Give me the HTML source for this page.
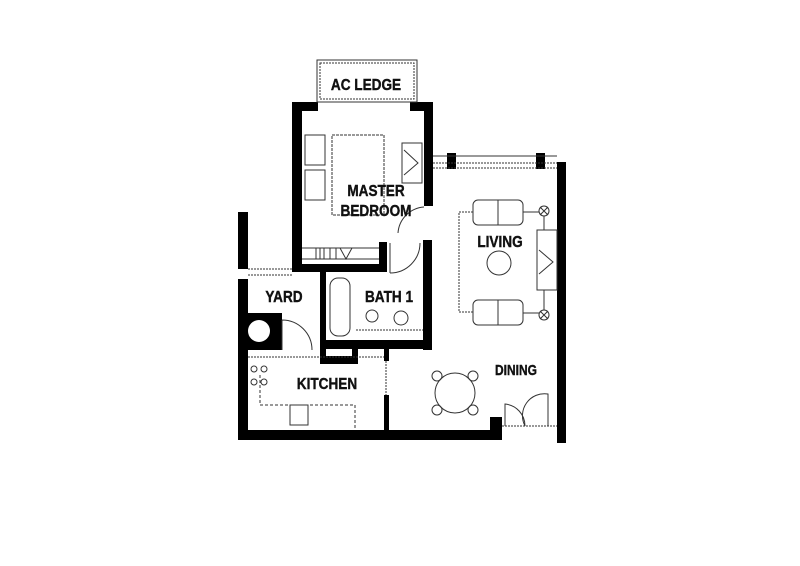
<!DOCTYPE html>
<html><head><style>
html,body{margin:0;padding:0;background:#fff;}
svg{display:block;}
text{font-family:"Liberation Sans",sans-serif;font-weight:bold;fill:#111;stroke:#111;stroke-width:0.4;}
</style></head><body>
<svg width="800" height="566" viewBox="0 0 800 566" xmlns="http://www.w3.org/2000/svg">
<g fill="#000">
<rect x="292" y="102" width="26" height="9"/>
<rect x="410" y="102" width="23" height="9"/>
<rect x="292" y="102" width="10" height="170"/>
<rect x="424" y="102" width="9" height="104"/>
<rect x="292" y="264" width="95" height="8"/>
<rect x="379" y="242" width="8" height="30"/>
<rect x="423" y="240" width="9" height="110"/>
<rect x="238" y="212" width="10" height="57"/>
<rect x="238" y="279" width="10" height="161"/>
<rect x="238" y="430" width="264" height="10"/>
<rect x="490" y="417" width="12" height="23"/>
<rect x="557" y="162" width="9" height="281"/>
<rect x="447" y="153" width="9" height="16"/>
<rect x="536" y="153" width="9" height="16"/>
<rect x="320" y="272" width="6" height="78"/>
<rect x="320" y="340" width="112" height="9"/>
<rect x="320" y="340" width="6" height="24"/>
<rect x="320" y="356" width="38" height="8"/>
<rect x="352" y="340" width="6" height="24"/>
<rect x="238" y="313" width="44" height="37"/>
<rect x="384" y="347" width="5" height="14"/>
<rect x="384" y="395" width="5" height="40"/>
</g>
<circle cx="259" cy="331" r="11" fill="#fff"/>
<g fill="none" stroke="#333" stroke-width="1">
<rect x="317" y="60" width="100" height="42"/>
<rect x="320" y="63" width="94" height="36" stroke-dasharray="2,1"/>
<line x1="433" y1="156" x2="557" y2="156"/>
<line x1="433" y1="168" x2="557" y2="168" stroke-dasharray="2,1"/>
<line x1="433" y1="163" x2="557" y2="163" stroke-dasharray="2,1"/>
<line x1="248" y1="269" x2="292" y2="269" stroke-dasharray="2,1"/>
<line x1="248" y1="275" x2="292" y2="275" stroke-dasharray="2,1"/>
<rect x="332" y="135" width="52" height="80" stroke-dasharray="3,1"/>
<rect x="328" y="138" width="60" height="0.5" stroke="none"/>
<line x1="302" y1="111" x2="302" y2="111"/>
<rect x="305" y="135" width="20" height="30"/>
<rect x="305" y="170" width="20" height="30"/>
<rect x="402" y="143" width="20" height="40"/>
<path d="M404,150 L418,163 L404,175"/>
<line x1="302" y1="248" x2="379" y2="248"/>
<line x1="302" y1="259" x2="379" y2="259"/>
<path d="M316,248 v11 M320,248 v11 M324,248 v11 M330,248 v11 M336,248 v11 M340,248 l6,11 l6,-11"/>
<path d="M424,207 A28,28 0 0 0 398,233"/>
<path d="M390,243 v30 M390,273 A30,30 0 0 0 420,243"/>
<rect x="330" y="278" width="20" height="58" rx="8"/>
<circle cx="372" cy="316" r="6"/>
<circle cx="401" cy="318" r="7"/>
<line x1="356" y1="330" x2="423" y2="330" stroke-dasharray="2,1"/>
<path d="M282,320 A30,30 0 0 1 312,350 M282,320 v30" />
<line x1="248" y1="357" x2="384" y2="357" stroke-dasharray="2,1"/>
<path d="M260,375 v30 h95 v25" stroke-dasharray="3,2"/>
<rect x="290" y="405" width="18" height="20"/>
<circle cx="254" cy="369" r="3"/><circle cx="264" cy="369" r="3"/>
<circle cx="254" cy="382" r="3"/><circle cx="264" cy="382" r="3"/>
<rect x="473" y="200" width="50" height="25" rx="5"/>
<line x1="498" y1="200" x2="498" y2="225"/>
<rect x="473" y="300" width="50" height="25" rx="5"/>
<line x1="498" y1="300" x2="498" y2="325"/>
<path d="M473,212 h-14 v100 h14" stroke-dasharray="2,1"/>
<circle cx="499" cy="263" r="12"/>
<rect x="537" y="230" width="20" height="60"/>
<path d="M539,250 L553,262 L539,274"/>
<circle cx="544" cy="211" r="5"/><path d="M540,207 l8,8 M548,207 l-8,8"/>
<circle cx="544" cy="315" r="5"/><path d="M540,311 l8,8 M548,311 l-8,8"/>
<path d="M523,212 h16 M523,313 h16 M544,216 v14 M544,290 v20"/>
<circle cx="455" cy="393" r="20"/>
<circle cx="437" cy="376" r="5"/><circle cx="473" cy="376" r="5"/>
<circle cx="437" cy="410" r="5"/><circle cx="473" cy="410" r="5"/>
<path d="M505,426 v-22 A22,22 0 0 1 525,426 M525,426 A22,22 0 0 1 548,394 v32"/>
<line x1="502" y1="426" x2="557" y2="426" stroke-dasharray="2,1"/>
<line x1="386" y1="361" x2="386" y2="395" stroke-dasharray="2,1"/>
</g>
<text x="366" y="90" font-size="16" text-anchor="middle" transform="translate(366,0) scale(0.85,1) translate(-366,0)">AC LEDGE</text>
<text x="376" y="196" font-size="16" text-anchor="middle" transform="translate(376,0) scale(0.85,1) translate(-376,0)">MASTER</text>
<text x="376" y="216" font-size="16" text-anchor="middle" transform="translate(376,0) scale(0.85,1) translate(-376,0)">BEDROOM</text>
<text x="500" y="247" font-size="16" text-anchor="middle" transform="translate(500,0) scale(0.85,1) translate(-500,0)">LIVING</text>
<text x="284" y="302" font-size="16" text-anchor="middle" transform="translate(284,0) scale(0.85,1) translate(-284,0)">YARD</text>
<text x="389" y="302" font-size="16" text-anchor="middle" transform="translate(389,0) scale(0.85,1) translate(-389,0)">BATH 1</text>
<text x="327" y="389" font-size="16" text-anchor="middle" transform="translate(327,0) scale(0.85,1) translate(-327,0)">KITCHEN</text>
<text x="516" y="375" font-size="15" text-anchor="middle" transform="translate(516,0) scale(0.8,1) translate(-516,0)">DINING</text>
</svg>
</body></html>
